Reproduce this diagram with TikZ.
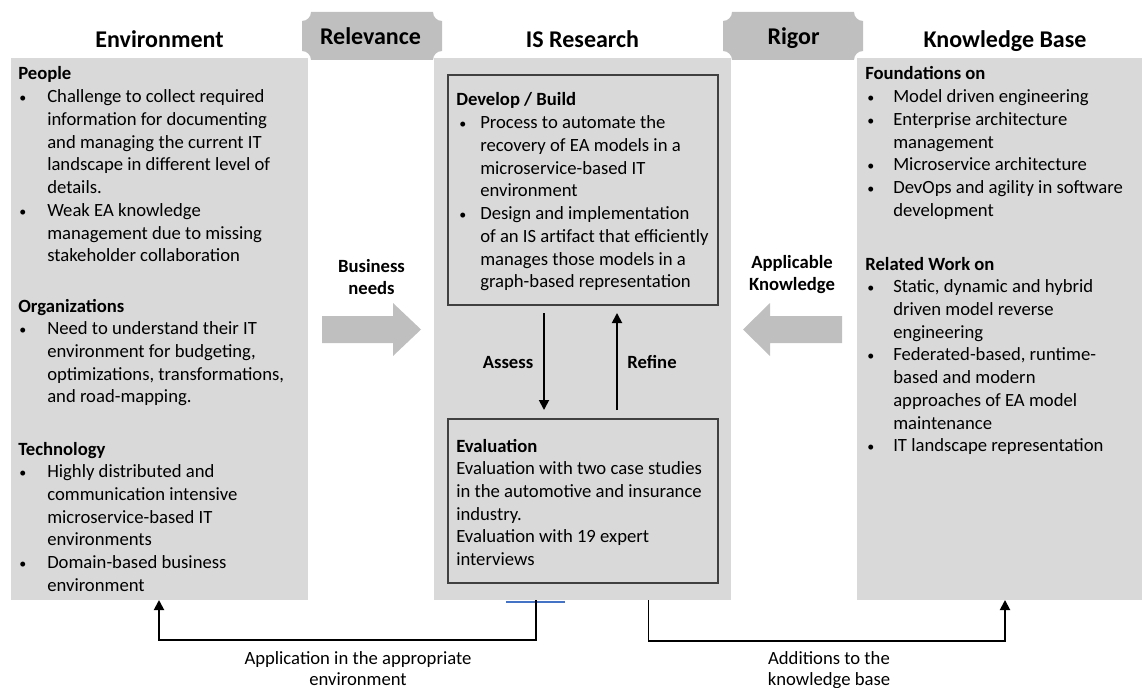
\documentclass[tikz,border=0pt]{standalone}
\usepackage{fontspec}
\setmainfont{Carlito}
\usetikzlibrary{arrows.meta,calc}
\definecolor{panelgray}{HTML}{D9D9D9}
\definecolor{tabgray}{HTML}{BFBFBF}
\definecolor{linkblue}{HTML}{4472C4}
\newlength\bind
\newlength\bofs
% bullet paragraph with hanging indent
\newcommand\bpar[1]{\par\hangindent=\bind\hangafter=1\noindent\makebox[\bind][l]{\hspace{\bofs}\scalebox{0.75}{\textbullet}}#1}
\newcommand\bodyfont{\fontsize{14pt}{17.06pt}\selectfont}
% tab shape with concave corners
\newcommand\plaque[4]{%
  \fill[tabgray] (#1+9,#2) -- (#3-9,#2) arc[start angle=180,end angle=90,radius=9]
    -- (#3,#4-9) arc[start angle=270,end angle=180,radius=9]
    -- (#1+9,#4) arc[start angle=0,end angle=-90,radius=9]
    -- (#1,#2+9) arc[start angle=90,end angle=0,radius=9] -- cycle;}
\begin{document}
\begin{tikzpicture}[x=0.75pt,y=-0.75pt,
  panel/.style={fill=panelgray, draw=none, anchor=north west, inner sep=0pt, outer sep=0pt},
  stage/.style={fill=panelgray, draw=black!75, line width=0.8pt, anchor=north west, inner sep=0pt, outer sep=0pt},
  title/.style={font=\fontsize{18pt}{21pt}\selectfont\bfseries, anchor=base, inner sep=0pt},
  txt/.style={anchor=base west, inner sep=0pt, font=\bodyfont},
  lbl/.style={anchor=base, inner sep=0pt, font=\bodyfont\bfseries},
  note/.style={anchor=base, inner sep=0pt, font=\fontsize{14pt}{15.75pt}\selectfont},
  conn/.style={line width=1.4pt, -{Triangle[length=7.5pt,width=7.5pt]}},
]
\useasboundingbox (0,0) rectangle (1142,688);

% columns
\node[panel, minimum width=222.75pt, minimum height=406.5pt] (env) at (11,58) {};
\node[panel, minimum width=222.75pt, minimum height=406.5pt] (isr) at (434,58) {};
\node[panel, minimum width=213.75pt, minimum height=406.5pt] (kb) at (857,58) {};

% research cycle boxes
\node[stage, minimum width=202.5pt, minimum height=172.5pt] (dev) at (448,75) {};
\node[stage, minimum width=202.5pt, minimum height=123pt] (eval) at (448,419) {};

% tabs
\plaque{302}{12}{442}{60}
\plaque{723}{12}{863}{60}

% block arrows
\fill[tabgray] (322,316) -- (393,316) -- (393,303) -- (421,329.5) -- (393,356) -- (393,343) -- (322,343) -- cycle;
\fill[tabgray] (842,316) -- (770,316) -- (770,303) -- (743,329.5) -- (770,356) -- (770,343) -- (842,343) -- cycle;

% titles
\node[title] (tenv) at (159.5,48) {Environment};
\node[title] (tisr) at (582.5,48) {IS Research};
\node[title] (tkb) at (1005,48) {Knowledge Base};
\node[title] (trel) at (370.5,45) {Relevance};
\node[title] (trig) at (793.5,45) {Rigor};

% environment
\node[txt] (people) at (18,80) {\parbox[t]{218pt}{\raggedright\bind=21.75pt\bofs=0.75pt
\textbf{People}
\bpar{Challenge to collect required\newline information for documenting\newline and managing the current IT\newline landscape in different level of\newline details.}
\bpar{Weak EA knowledge\newline management due to missing\newline stakeholder collaboration}}};
\node[txt] (orgs) at (18,312) {\parbox[t]{218pt}{\raggedright\bind=21.75pt\bofs=0.75pt
\textbf{Organizations}
\bpar{Need to understand their IT\newline environment for budgeting,\newline optimizations, transformations,\newline and road-mapping.}}};
\node[txt] (tech) at (18,455) {\parbox[t]{218pt}{\raggedright\bind=21.75pt\bofs=0.75pt
\textbf{Technology}
\bpar{Highly distributed and\newline communication intensive\newline microservice-based IT\newline environments}
\bpar{Domain-based business\newline environment}}};

% knowledge base
\node[txt] (found) at (865,80) {\parbox[t]{205pt}{\raggedright\bind=21pt\bofs=1.5pt
\textbf{Foundations on}
\bpar{Model driven engineering}
\bpar{Enterprise architecture\newline management}
\bpar{Microservice architecture}
\bpar{DevOps and agility in software\newline development}}};
\node[txt] (related) at (865,270) {\parbox[t]{205pt}{\raggedright\bind=21pt\bofs=1.5pt
\textbf{Related Work on}
\bpar{Static, dynamic and hybrid\newline driven model reverse\newline engineering}
\bpar{Federated-based, runtime-\newline based and modern\newline approaches of EA model\newline maintenance}
\bpar{IT landscape representation}}};

% research content
\node[txt] (devtxt) at (456,106) {\parbox[t]{196pt}{\raggedright\bind=18pt\bofs=2.25pt
\textbf{Develop / Build}
\bpar{Process to automate the\newline recovery of EA models in a\newline microservice-based IT\newline environment}
\bpar{Design and implementation\newline of an IS artifact that efficiently\newline manages those models in a\newline graph-based representation}}};
\node[txt] (evaltxt) at (456,452) {\parbox[t]{196pt}{\raggedright
\textbf{Evaluation}\\
Evaluation with two case studies\\
in the automotive and insurance\\
industry.\\
Evaluation with 19 expert\\
interviews}};

% flow labels
\node[lbl] (bneeds) at (371.5,272) {\parbox[t]{100pt}{\centering Business\\needs}};
\node[lbl] (aknow) at (792,268) {\parbox[t]{100pt}{\centering Applicable\\Knowledge}};
\node[lbl] (assess) at (508,368) {Assess};
\node[lbl] (refine) at (652,368) {Refine};

% cycle arrows
\draw[conn] ($(dev.south)+(-39,8)$) -- ($(eval.north)+(-39,-9)$);
\draw[conn] ($(eval.north)+(34,-9)$) -- ($(dev.south)+(34,8)$);

% accent under the research column
\draw[linkblue, line width=1.5pt] ($(isr.south)+(-76.5,1.5)$) -- ($(isr.south)+(-17.5,1.5)$);

% feedback connectors
\draw[conn] ($(isr.south)+(-46.5,0)$) -- ++(0,40) -| ($(env.south)+(-0.5,0)$);
\draw[conn] ($(isr.south)+(66,0)$) -- ++(0,41) -| ($(kb.south)+(5.5,0)$);
\node[note] (app) at (358,664) {\parbox[t]{220pt}{\centering Application in the appropriate\\environment}};
\node[note] (add) at (829,664) {\parbox[t]{220pt}{\centering Additions to the\\knowledge base}};
\end{tikzpicture}
\end{document}
